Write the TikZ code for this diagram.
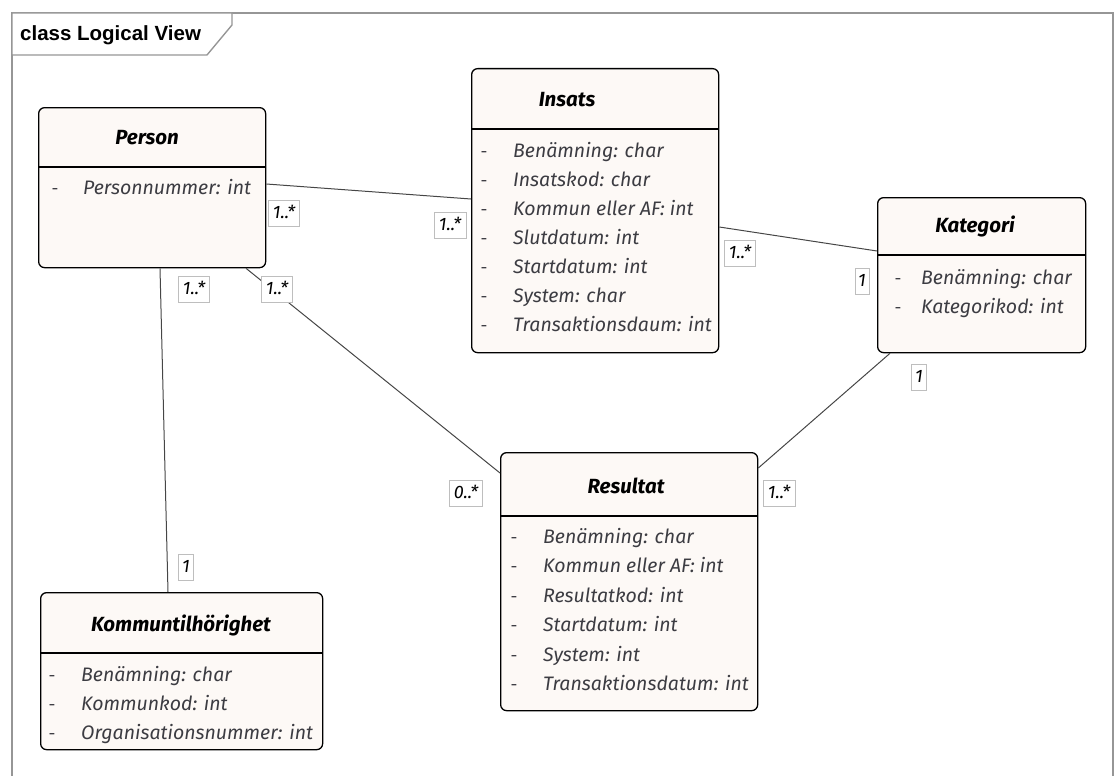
\documentclass[tikz,border=0pt]{standalone}
\usepackage{fontspec}
\setmainfont{Fira Sans}
\newfontfamily\umlfont{Fira Sans}
\newfontfamily\framefont{Liberation Sans}
\usetikzlibrary{calc}
\definecolor{boxfill}{RGB}{253,249,246}
\definecolor{attrgray}{RGB}{60,60,66}
\definecolor{linegray}{RGB}{70,70,70}
\definecolor{framegray}{RGB}{150,150,150}
\definecolor{labelgray}{RGB}{190,190,190}
\begin{document}
\begin{tikzpicture}[x=1pt,y=-1pt,
  classbox/.style={draw=black, line width=1.3pt, fill=boxfill, rounded corners=6pt, inner sep=0pt, anchor=north west},
  sepline/.style={draw=black, line width=1.2pt},
  titletext/.style={font=\umlfont\bfseries\itshape\fontsize{20.5}{22}\selectfont, text=black, inner sep=0pt, text height=14pt, text depth=5pt},
  attrtext/.style={font=\umlfont\itshape\fontsize{19.5}{22}\selectfont, text=attrgray, anchor=west, inner sep=0pt, text height=13pt, text depth=5pt},
  dashtext/.style={font=\umlfont\fontsize{17}{20}\selectfont, text=attrgray, inner sep=0pt, text height=13pt, text depth=5pt},
  mult/.style={draw=labelgray, line width=0.7pt, fill=white, font=\umlfont\itshape\fontsize{18}{20}\selectfont, text=black, inner sep=0pt, minimum height=26pt, text height=13pt, text depth=3pt},
  assoc/.style={draw=linegray, line width=1pt}
]
\useasboundingbox (0,0) rectangle (1116,776);
% frame
\draw[framegray, line width=1.6pt] (12,776) -- (12,13) -- (1113,13) -- (1113,776);
\draw[framegray, line width=1.4pt, fill=white] (12,13) -- (232,13) -- (232,25) -- (207,55) -- (12,55) -- cycle;
\node[font=\framefont\bfseries\fontsize{20.5}{22}\selectfont, anchor=west, inner sep=0pt] (frametitle) at (20,35) {class Logical View};

% ---------- Person ----------
\node[classbox, minimum width=227pt, minimum height=160pt] (person) at (38,107) {};
\draw[sepline] (38,167) -- (265,167);
\node[titletext] (persont) at (147,140) {Person};
\node[dashtext] (pd1) at (55,190) {-};
\node[attrtext] (pa1) at (83,190) {Personnummer: int};

% ---------- Insats ----------
\node[classbox, minimum width=247pt, minimum height=284pt] (insats) at (471,68) {};
\draw[sepline] (471,129) -- (718,129);
\node[titletext] (insatst) at (567,102) {Insats};
\foreach \t [count=\i] in {Benämning: char, Insatskod: char, Kommun eller AF: int, Slutdatum: int, Startdatum: int, System: char, Transaktionsdaum: int}{
  \node[dashtext] (id\i) at (484,{153+(\i-1)*29}) {-};
  \node[attrtext] (ia\i) at (513,{153+(\i-1)*29}) {\t};
}

% ---------- Kategori ----------
\node[classbox, minimum width=208pt, minimum height=155pt] (kategori) at (877,197) {};
\draw[sepline] (877,255) -- (1085,255);
\node[titletext] (kategorit) at (975,228) {Kategori};
\node[dashtext] (kd1) at (898,280) {-};
\node[attrtext] (ka1) at (921,280) {Benämning: char};
\node[dashtext] (kd2) at (898,309) {-};
\node[attrtext] (ka2) at (921,309) {Kategorikod: int};

% ---------- Resultat ----------
\node[classbox, minimum width=257pt, minimum height=258pt] (resultat) at (500,452) {};
\draw[sepline] (500,516) -- (757,516);
\node[titletext] (resultatt) at (626,489) {Resultat};
\foreach \t [count=\i] in {Benämning: char, Kommun eller AF: int, Resultatkod: int, Startdatum: int, System: int, Transaktionsdatum: int}{
  \node[dashtext] (rd\i) at (514,{539+(\i-1)*29.5}) {-};
  \node[attrtext] (ra\i) at (543,{539+(\i-1)*29.5}) {\t};
}

% ---------- Kommuntilhörighet ----------
\node[classbox, minimum width=282pt, minimum height=157pt] (kommun) at (40,592) {};
\draw[sepline] (40,653) -- (322,653);
\node[titletext] (kommunt) at (181,627) {Kommuntilhörighet};
\foreach \t [count=\i] in {Benämning: char, Kommunkod: int, Organisationsnummer: int}{
  \node[dashtext] (kd\i x) at (52,{677+(\i-1)*29}) {-};
  \node[attrtext] (kma\i) at (81,{677+(\i-1)*29}) {\t};
}

% ---------- connectors ----------
\draw[assoc] ([yshift=-77pt]person.north east) -- ([yshift=-131pt]insats.north west);
\draw[assoc] ([yshift=-159pt]insats.north east) -- ([yshift=-54pt]kategori.north west);
\draw[assoc] ([xshift=122pt]person.south west) -- ([xshift=128pt]kommun.north west);
\draw[assoc] ([xshift=208pt]person.south west) -- ([yshift=-21pt]resultat.north west);
\draw[assoc] ([xshift=13pt]kategori.south west) -- ([yshift=-16pt]resultat.north east);

% ---------- multiplicities ----------
\node[mult, minimum width=31pt] (m1) at (284,213) {1..*};
\node[mult, minimum width=32pt] (m2) at (450,225) {1..*};
\node[mult, minimum width=31pt] (m3) at (194,289) {1..*};
\node[mult, minimum width=31pt] (m4) at (277,289) {1..*};
\node[mult, minimum width=31pt] (m5) at (740,253) {1..*};
\node[mult, minimum width=14pt] (m6) at (862,281) {1};
\node[mult, minimum width=15pt] (m7) at (919,377) {1};
\node[mult, minimum width=32pt] (m8) at (779,493) {1..*};
\node[mult, minimum width=33pt] (m9) at (466,493) {0..*};
\node[mult, minimum width=15pt] (m10) at (186,567) {1};
\end{tikzpicture}
\end{document}
